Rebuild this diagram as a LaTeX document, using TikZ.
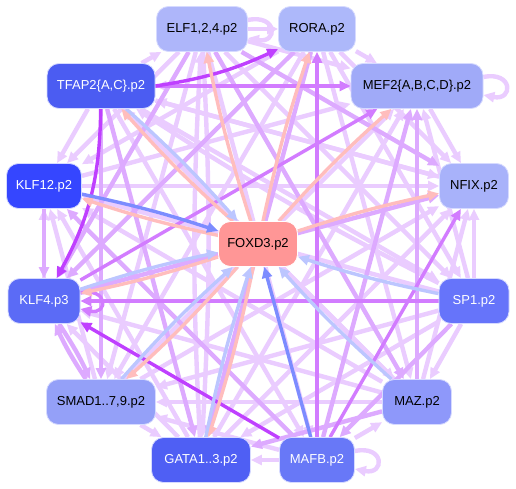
\documentclass[tikz,border=0pt]{standalone}
\usepackage{fontspec}
\setmainfont{Liberation Sans}
\usetikzlibrary{arrows.meta,backgrounds}
\definecolor{cL}{HTML}{EACCFF}
\definecolor{cM}{HTML}{DDAAFF}
\definecolor{cS}{HTML}{D27CFF}
\definecolor{cX}{HTML}{BF40FF}
\definecolor{cP}{HTML}{FFBDBD}
\definecolor{cB}{HTML}{BCC6FF}
\definecolor{cBB}{HTML}{7C8CFF}
\definecolor{frame}{HTML}{D6DAFF}
\definecolor{fELF}{HTML}{AEB6FA}
\definecolor{fRORA}{HTML}{ADB8FA}
\definecolor{fMEF}{HTML}{A0AAF8}
\definecolor{fNFIX}{HTML}{A8B2FA}
\definecolor{fTFAP}{HTML}{4B5CF2}
\definecolor{fKLFa}{HTML}{3546FF}
\definecolor{fKLFb}{HTML}{5B6BF6}
\definecolor{fSP}{HTML}{6674FA}
\definecolor{fSMAD}{HTML}{94A0F8}
\definecolor{fMAZ}{HTML}{8E98FA}
\definecolor{fGATA}{HTML}{4F5FF4}
\definecolor{fMAFB}{HTML}{6878F7}
\definecolor{fFOX}{HTML}{FF9696}
\begin{document}
\begin{tikzpicture}[x=1pt,y=-1pt,
  tf/.style={rectangle,rounded corners=12pt,minimum height=45pt,inner sep=0pt,
    draw=frame,line width=0.8pt,font=\fontsize{13}{15}\selectfont},
  ed/.style={line width=4.4pt,-{Triangle[length=11pt,width=10pt]}},
  es/.style={line width=3.4pt,-{Triangle[length=11pt,width=10pt]}}]
\useasboundingbox (0,0) rectangle (516,489);
\node[tf,fill=fELF,minimum width=91pt] (e) at (202,29) {ELF1,2,4.p2};
\node[tf,fill=fRORA,minimum width=77pt] (r) at (317,29) {RORA.p2};
\node[tf,fill=fTFAP,text=white,minimum width=108pt] (t) at (101,86) {TFAP2\{A,C\}.p2};
\node[tf,fill=fMEF,minimum width=132pt] (m) at (417,86) {MEF2\{A,B,C,D\}.p2};
\node[tf,fill=fKLFa,text=white,minimum width=75pt] (k12) at (44,186) {KLF12.p2};
\node[tf,fill=fNFIX,minimum width=69pt] (n) at (474,186) {NFIX.p2};
\node[tf,fill=fFOX,draw=white,minimum width=79pt] (f) at (258,244) {FOXD3.p2};
\node[tf,fill=fKLFb,text=white,minimum width=72pt] (k4) at (44,301) {KLF4.p3};
\node[tf,fill=fSP,text=white,minimum width=70pt] (s) at (474,301) {SP1.p2};
\node[tf,fill=fSMAD,minimum width=109pt] (d) at (101,402) {SMAD1..7,9.p2};
\node[tf,fill=fMAZ,minimum width=69pt] (z) at (417,402) {MAZ.p2};
\node[tf,fill=fGATA,text=white,minimum width=99pt] (g) at (201,460) {GATA1..3.p2};
\node[tf,fill=fMAFB,text=white,minimum width=75pt] (b) at (317,460) {MAFB.p2};
\begin{pgfonlayer}{background}
\fill[white] (0,0) rectangle (516,489);
% light edges
\foreach \a/\b in {t/k12,t/e,t/b,t/z,t/n,t/s,e/r,e/m,e/s,e/b,e/d,e/k12,r/m,r/n,r/s,r/z,r/d,r/k12,
  m/n,s/m,g/m,d/m,k12/m,k12/n,s/n,z/n,g/n,d/n,s/z,s/g,s/d,s/k12,z/d,z/k4,z/k12,z/t,b/z,b/g,b/d,
  d/g,g/k4,g/k12,d/k12,k4/k12,n/t,m/t}
  \draw[ed,cL] (\a) -- (\b);
\draw[ed,cL] (e) to[bend left=3] (g);
\draw[ed,cL] (g) to[bend left=3] (e);
\draw[ed,cL] (s) to[bend left=3] (t);
% medium edges
\foreach \a/\b in {t/d,t/g,e/n,e/z,e/k4,r/g,r/k4,z/m,b/m,k4/n,s/b,z/g,b/k12,k12/k4}
  \draw[ed,cM] (\a) -- (\b);
\draw[ed,cM] (k4) to[bend left=4] (d);
\draw[ed,cM] (d) to[bend left=4] (k4);
% saturated edges
\draw[es,cS] (t) -- (m);
\draw[es,cS] (b) -- (r);
\draw[es,cS] (k4) -- (m);
\draw[es,cS] (b) -- (n);
\draw[es,cS] (s) -- (k4);
\draw[es,cS] ([yshift=8pt]k4.east) .. controls +(28pt,6pt) and +(28pt,-6pt) .. ([yshift=-8pt]k4.east);
% strong edges
\draw[es,cX] (t.east) to[bend right=8] (r);
\draw[es,cX] (t) to[bend left=14] (k4);
\draw[es,cX] (b) -- (k4);
% self loops
\draw[ed,cL] ([yshift=9pt]e.east) .. controls +(30pt,6pt) and +(30pt,-6pt) .. ([yshift=-9pt]e.east);
\draw[ed,cL] ([yshift=9pt]m.east) .. controls +(30pt,6pt) and +(30pt,-6pt) .. ([yshift=-9pt]m.east);
\draw[ed,cL] ([yshift=9pt]b.east) .. controls +(30pt,6pt) and +(30pt,-6pt) .. ([yshift=-9pt]b.east);
% FOXD3 edges
\foreach \b in {e,r,m,n,k4,d,g,t,k12}
  \draw[es,cP] (f) to[bend left=3] (\b);
\foreach \a in {t,k4,d,g,z,s}
  \draw[es,cB] (\a) to[bend left=3] (f);
\draw[es,cBB] (k12) to[bend left=3] (f);
\draw[es,cBB] (b) -- (f);
\end{pgfonlayer}
\end{tikzpicture}
\end{document}
